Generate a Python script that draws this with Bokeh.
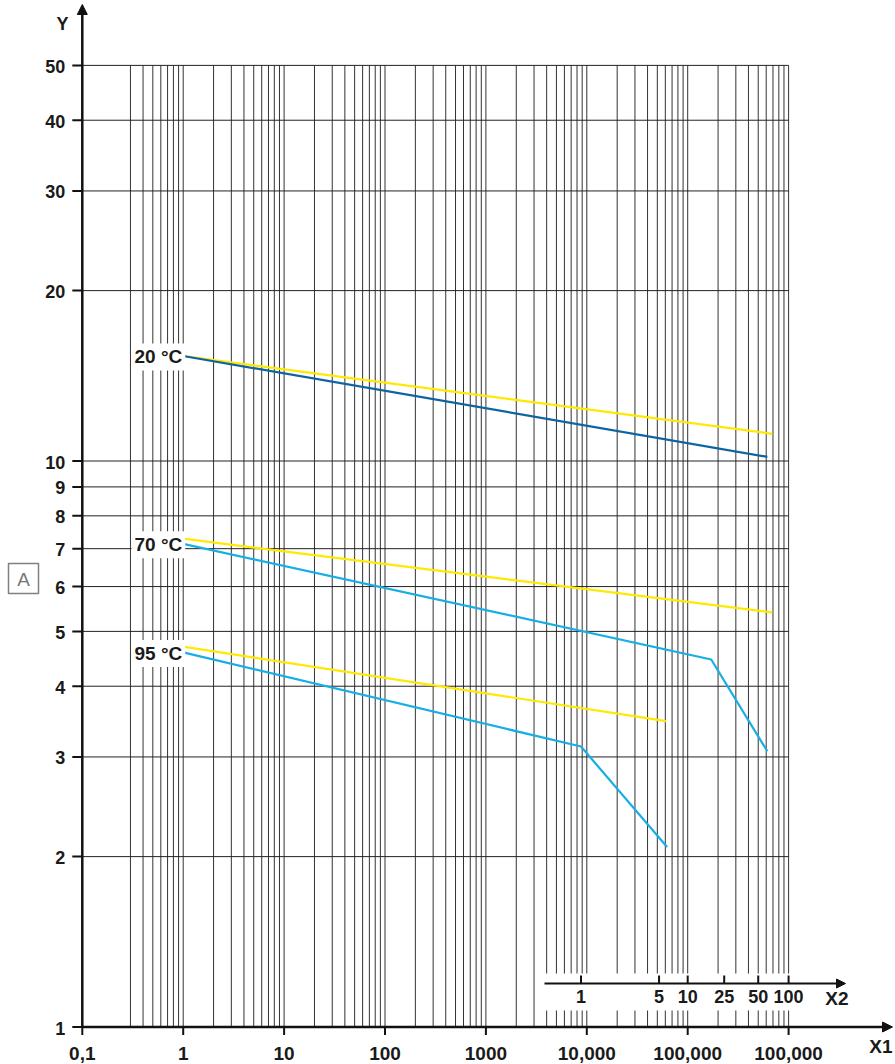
from bokeh.plotting import figure
from bokeh.models import Label, Arrow, NormalHead, Range1d
from bokeh.embed import file_html
from bokeh.resources import INLINE
from bokeh.core.properties import value

# ---------------- data ----------------
x1_ticks = [0.1, 1, 10, 100, 1000, 10000, 100000, 1000000]
x1_labels = ["0,1", "1", "10", "100", "1000", "10,000", "100,000", "100,000"]
y_ticks = [1, 2, 3, 4, 5, 6, 7, 8, 9, 10, 20, 30, 40, 50]
y_labels = ["1", "2", "3", "4", "5", "6", "7", "8", "9", "10", "20", "30", "40", "50"]
x2_labels = ["1", "5", "10", "25", "50", "100"]
# positions of the year ticks on the hour (X1) scale
x2_hours = [8760, 52000, 100000, 230000, 500000, 1000000]

grid_x = [0.3, 0.4, 0.5, 0.6, 0.7, 0.8, 0.9] + \
    [m * 10 ** e for e in range(0, 6) for m in range(1, 10)] + [1000000]
grid_y = [2, 3, 4, 5, 6, 7, 8, 9, 10, 20, 30, 40, 50]

temp_labels = ["20 °C", "70 °C", "95 °C"]

t20_blue_x = [1, 616000]
t20_blue_y = [15.33, 10.17]
t20_yellow_x = [1, 690000]
t20_yellow_y = [15.33, 11.17]

t70_blue_x = [1, 171000, 616000]
t70_blue_y = [7.14, 4.46, 3.07]
t70_yellow_x = [1, 690000]
t70_yellow_y = [7.29, 5.40]

t95_blue_x = [1, 8760, 62500]
t95_blue_y = [4.59, 3.13, 2.08]
t95_yellow_x = [1, 61200]
t95_yellow_y = [4.70, 3.47]

# ---------------- layout helpers (pixel -> data, for decorations only) ----------------
FONT = "Liberation Sans"
INK = "#1a1a1a"
W, H = 895, 1064
X0, DEC_X = 81.8, 100.9      # pixel of x=0.1, pixels per decade
Y0, DEC_Y = 1026.5, 566.0    # pixel of y=1, pixels per decade


def X(px):
    return 10 ** (-1 + (px - X0) / DEC_X)


def Y(py):
    return 10 ** ((Y0 - py) / DEC_Y)


x_axis_pos = min(x1_ticks)
y_axis_pos = min(y_ticks)

p = figure(width=W, height=H, x_axis_type="log", y_axis_type="log",
           x_range=Range1d(X(0), X(W)), y_range=Range1d(Y(H), Y(0)),
           x_axis_location=None, y_axis_location=None,
           output_backend="svg", toolbar_location=None,
           min_border=0)
p.outline_line_color = None
p.xgrid.visible = False
p.ygrid.visible = False
p.background_fill_color = "white"
p.border_fill_color = "white"

# grid
p.segment(x0=grid_x, y0=[y_axis_pos] * len(grid_x), x1=grid_x, y1=[max(y_ticks)] * len(grid_x),
          line_color="#333333", line_width=1)
p.segment(x0=[x_axis_pos] * len(grid_y), y0=grid_y, x1=[max(x1_ticks)] * len(grid_y), y1=grid_y,
          line_color="#222222", line_width=1)

# white band behind secondary axis
p.quad(left=[X(540)], right=[X(860)], bottom=[Y(1010)], top=[Y(973)],
       fill_color="white", line_color=None)

# series
YELLOW = "#FFE900"
DBLUE = "#0E64A0"
LBLUE = "#17AEE6"
LW = 2.2
p.line(t20_yellow_x, t20_yellow_y, line_color=YELLOW, line_width=LW)
p.line(t20_blue_x, t20_blue_y, line_color=DBLUE, line_width=LW)
p.line(t70_yellow_x, t70_yellow_y, line_color=YELLOW, line_width=LW)
p.line(t70_blue_x, t70_blue_y, line_color=LBLUE, line_width=LW)
p.line(t95_yellow_x, t95_yellow_y, line_color=YELLOW, line_width=LW)
p.line(t95_blue_x, t95_blue_y, line_color=LBLUE, line_width=LW)

for txt, yy in zip(temp_labels, [t20_blue_y[0], t70_blue_y[0], t95_blue_y[0]]):
    p.add_layout(Label(x=1, y=yy, text=txt, text_align="right", text_baseline="middle",
                       x_offset=2, y_offset=-1, text_font=FONT, text_font_style="bold",
                       text_font_size="19px", text_color=INK,
                       background_fill_color="white", padding=3))

# ---- main Y axis ----
p.add_layout(Arrow(x_start=x_axis_pos, y_start=y_axis_pos, x_end=x_axis_pos, y_end=Y(4),
                   line_width=2.5, line_color="#111111",
                   end=NormalHead(size=10, fill_color="#111111", line_color="#111111")))
p.segment(x0=[X(X0 - 10)] * len(y_ticks), y0=y_ticks, x1=[x_axis_pos] * len(y_ticks), y1=y_ticks,
          line_color="#111111", line_width=2)
p.text(x=[x_axis_pos] * len(y_ticks), y=y_ticks, text=y_labels, text_align="right",
       text_baseline="middle", x_offset=-17, y_offset=1, text_font=value(FONT),
       text_font_style="bold", text_font_size="18px", text_color=INK)

# ---- main X axis ----
p.add_layout(Arrow(x_start=x_axis_pos, y_start=y_axis_pos, x_end=X(892), y_end=y_axis_pos,
                   line_width=2.5, line_color="#111111",
                   end=NormalHead(size=10, fill_color="#111111", line_color="#111111")))
p.segment(x0=x1_ticks, y0=[y_axis_pos] * len(x1_ticks), x1=x1_ticks,
          y1=[Y(Y0 + 8)] * len(x1_ticks), line_color="#111111", line_width=2)
p.text(x=x1_ticks, y=[y_axis_pos] * len(x1_ticks), text=x1_labels, text_align="center",
       text_baseline="middle", y_offset=26, text_font=value(FONT),
       text_font_style="bold", text_font_size="19px", text_color=INK)

# ---- secondary axis (years) ----
x2_y = Y(983)
p.add_layout(Arrow(x_start=X(544), y_start=x2_y, x_end=X(845), y_end=x2_y,
                   line_width=2, line_color="#111111",
                   end=NormalHead(size=9, fill_color="#111111", line_color="#111111")))
p.segment(x0=x2_hours, y0=[x2_y] * len(x2_hours), x1=x2_hours,
          y1=[Y(975)] * len(x2_hours), line_color="#111111", line_width=2)
p.text(x=x2_hours, y=[x2_y] * len(x2_hours), text=x2_labels, text_align="center",
       text_baseline="middle", y_offset=13, text_font=value(FONT), text_font_style="bold",
       text_font_size="18px", text_color=INK)

# ---- axis titles ----
p.text(x=[X(848)], y=[x2_y], text=["X2"], text_align="right", text_baseline="middle",
       y_offset=15, text_font=value(FONT), text_font_style="bold",
       text_font_size="19px", text_color=INK)
p.text(x=[X(892)], y=[y_axis_pos], text=["X1"], text_align="right", text_baseline="middle",
       y_offset=19, text_font=value(FONT), text_font_style="bold",
       text_font_size="19px", text_color=INK)
p.text(x=[X(68)], y=[Y(23)], text=["Y"], text_align="right", text_baseline="middle",
       text_font=value(FONT), text_font_style="bold",
       text_font_size="18px", text_color=INK)

# ---- boxed "A" ----
p.rect(x=[X(23)], y=[Y(578)], width=30, height=30, width_units="screen", height_units="screen",
       fill_color="white", line_color="#808080", line_width=1.5)
p.text(x=[X(23)], y=[Y(578)], text=["A"], text_align="center", text_baseline="middle",
       y_offset=1, text_font=value(FONT), text_font_size="19px", text_color="#777777")

open("out.html", "w").write(file_html(p, INLINE))
